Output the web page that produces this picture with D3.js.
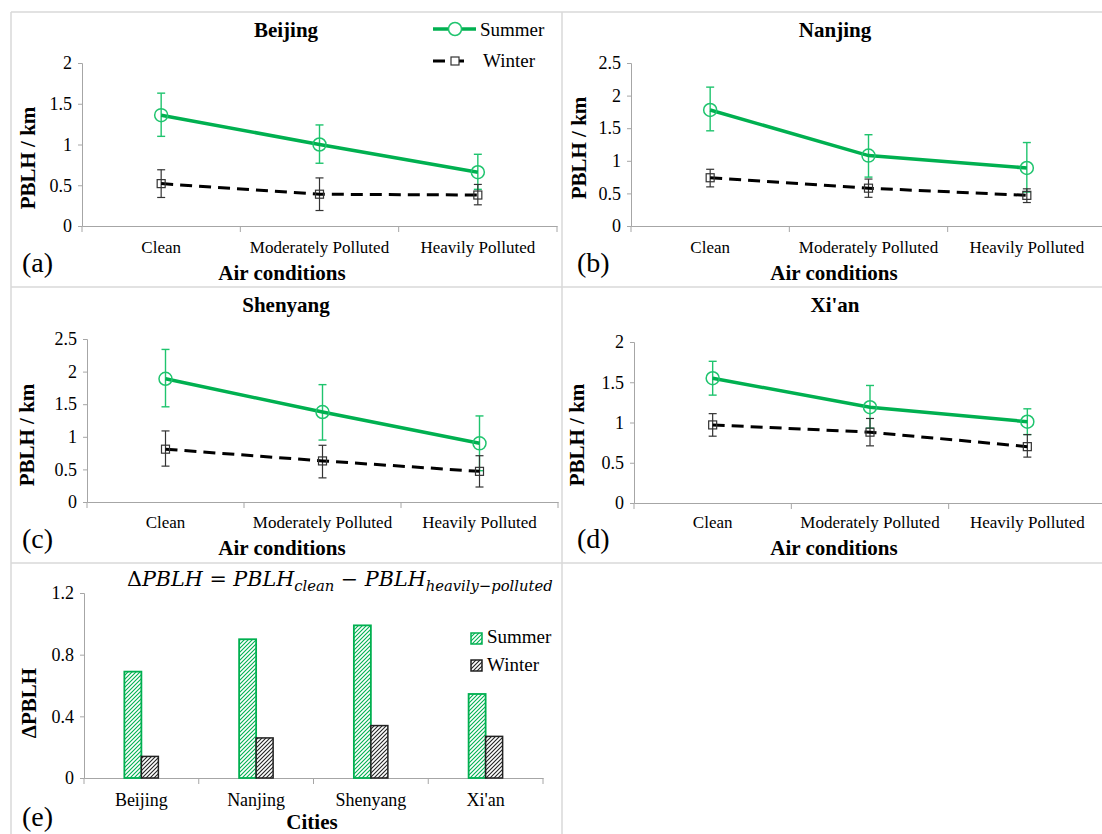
<!DOCTYPE html>
<html>
<head>
<meta charset="utf-8">
<script src="https://cdn.jsdelivr.net/npm/d3@7"></script>
</head>
<body style="margin:0;background:#fff">
<script>
// categories and tick labels
var categories = ["Clean", "Moderately Polluted", "Heavily Polluted"];
var cities = ["Beijing", "Nanjing", "Shenyang", "Xi'an"];
var ticksTwo = [0, 0.5, 1, 1.5, 2];
var ticksTwoHalf = [0, 0.5, 1, 1.5, 2, 2.5];
var deltaTicks = [0, 0.4, 0.8, 1.2];

// PBLH (km), mean and error range [low, high]
var beijingSummer = [1.36, 1.00, 0.66];
var beijingSummerErr = [[1.10, 1.63], [0.77, 1.24], [0.45, 0.88]];
var beijingWinter = [0.52, 0.39, 0.38];
var beijingWinterErr = [[0.35, 0.69], [0.19, 0.59], [0.26, 0.51]];

var nanjingSummer = [1.78, 1.08, 0.89];
var nanjingSummerErr = [[1.46, 2.13], [0.75, 1.40], [0.52, 1.28]];
var nanjingWinter = [0.74, 0.58, 0.47];
var nanjingWinterErr = [[0.60, 0.87], [0.44, 0.72], [0.36, 0.57]];

var shenyangSummer = [1.89, 1.38, 0.90];
var shenyangSummerErr = [[1.46, 2.34], [0.95, 1.80], [0.48, 1.32]];
var shenyangWinter = [0.81, 0.63, 0.47];
var shenyangWinterErr = [[0.55, 1.09], [0.37, 0.87], [0.23, 0.71]];

var xianSummer = [1.55, 1.19, 1.01];
var xianSummerErr = [[1.34, 1.76], [0.93, 1.46], [0.85, 1.17]];
var xianWinter = [0.97, 0.88, 0.70];
var xianWinterErr = [[0.83, 1.11], [0.71, 1.05], [0.57, 0.85]];

// delta PBLH = clean - heavily polluted
var deltaSummer = [0.69, 0.90, 0.99, 0.545];
var deltaWinter = [0.14, 0.26, 0.34, 0.27];

var green = "#00b050",
    errGreen = "#1fc46e",
    axisGray = "#a6a6a6",
    frameGray = "#d9d9d9",
    serif = "Liberation Serif";

var svg = d3.select("body").append("svg")
    .attr("width", 1102)
    .attr("height", 834);

// hatch patterns
var defs = svg.append("defs");
function hatch(id, color) {
    var p = defs.append("pattern")
        .attr("id", id)
        .attr("patternUnits", "userSpaceOnUse")
        .attr("width", 4).attr("height", 4);
    p.append("rect").attr("width", 4).attr("height", 4).attr("fill", "#fff");
    p.append("path")
        .attr("d", "M-1,1 l2,-2 M0,4 l4,-4 M3,5 l2,-2")
        .attr("stroke", color).attr("stroke-width", 1.1);
}
hatch("hatchGreen", green);
hatch("hatchBlack", "#222");

// panel frame lines
var frame = svg.append("g").attr("stroke", frameGray).attr("stroke-width", 1.5);
frame.append("line").attr("x1", 11).attr("x2", 1102).attr("y1", 12).attr("y2", 12);
frame.append("line").attr("x1", 11).attr("x2", 1102).attr("y1", 287).attr("y2", 287);
frame.append("line").attr("x1", 11).attr("x2", 1102).attr("y1", 563).attr("y2", 563);
frame.append("line").attr("x1", 11).attr("x2", 11).attr("y1", 12).attr("y2", 834);
frame.append("line").attr("x1", 562).attr("x2", 562).attr("y1", 12).attr("y2", 834);

function styleYAxis(ya) {
    ya.select(".domain").attr("stroke", axisGray);
    ya.selectAll(".tick line").attr("stroke", axisGray);
    ya.selectAll("text").attr("font-size", 18).attr("fill", "#000");
}

var panels = [
    {name: "Beijing", letter: "(a)", summer: beijingSummer, sErr: beijingSummerErr, winter: beijingWinter, wErr: beijingWinterErr,
     ticks: ticksTwo, x0: 82, x1: 557, yTop: 63, yBot: 226, tx: 286, ty: 37, ylx: 28, yly: 158, xlx: 282, xly: 280, cy: 253, lx: 22, ly: 272, legend: true},
    {name: "Nanjing", letter: "(b)", summer: nanjingSummer, sErr: nanjingSummerErr, winter: nanjingWinter, wErr: nanjingWinterErr,
     ticks: ticksTwoHalf, x0: 631, x1: 1106, yTop: 63, yBot: 226, tx: 835, ty: 37, ylx: 579, yly: 148, xlx: 834, xly: 280, cy: 253, lx: 577, ly: 272},
    {name: "Shenyang", letter: "(c)", summer: shenyangSummer, sErr: shenyangSummerErr, winter: shenyangWinter, wErr: shenyangWinterErr,
     ticks: ticksTwoHalf, x0: 87, x1: 558, yTop: 339, yBot: 502, tx: 286, ty: 312, ylx: 27, yly: 435, xlx: 282, xly: 555, cy: 528, lx: 22, ly: 548},
    {name: "Xi'an", letter: "(d)", summer: xianSummer, sErr: xianSummerErr, winter: xianWinter, wErr: xianWinterErr,
     ticks: ticksTwo, x0: 634, x1: 1106, yTop: 342, yBot: 503, tx: 835, ty: 312, ylx: 577, yly: 435, xlx: 834, xly: 555, cy: 528, lx: 577, ly: 548}
];

panels.forEach(function(p) {
    var g = svg.append("g");
    var x = d3.scaleBand().domain(categories).range([p.x0, p.x1]);
    var y = d3.scaleLinear().domain([0, d3.max(p.ticks)]).range([p.yBot, p.yTop]);
    var cx = function(d, i) { return x(categories[i]) + x.bandwidth() / 2; };

    // y axis
    var ya = g.append("g").attr("transform", "translate(" + p.x0 + ",0)")
        .call(d3.axisLeft(y).tickValues(p.ticks).tickSize(4).tickPadding(6).tickFormat(d3.format("")));
    styleYAxis(ya);

    // x axis with ticks between categories
    var xa = g.append("g").attr("transform", "translate(0," + p.yBot + ")")
        .call(d3.axisBottom(x).tickSize(0).tickFormat(""));
    xa.select(".domain").attr("stroke", axisGray);
    xa.selectAll(".tick").remove();
    var bounds = categories.map(function(c) { return x(c); }).concat([p.x1]);
    g.selectAll(".xt").data(bounds).enter().append("line")
        .attr("x1", function(d) { return d; }).attr("x2", function(d) { return d; })
        .attr("y1", p.yBot).attr("y2", p.yBot + 6)
        .attr("stroke", axisGray);
    g.selectAll(".cl").data(categories).enter().append("text")
        .attr("x", function(d) { return x(d) + x.bandwidth() / 2; })
        .attr("y", p.cy)
        .attr("text-anchor", "middle").attr("font-size", 17)
        .text(function(d) { return d; });

    // titles
    g.append("text").attr("x", p.tx).attr("y", p.ty).attr("text-anchor", "middle")
        .attr("font-size", 21).attr("font-weight", "bold").text(p.name);
    g.append("text").attr("transform", "translate(" + p.ylx + "," + p.yly + ") rotate(-90)")
        .attr("dy", "0.35em").attr("text-anchor", "middle")
        .attr("font-size", 21).attr("font-weight", "bold").text("PBLH / km");
    g.append("text").attr("x", p.xlx).attr("y", p.xly).attr("text-anchor", "middle")
        .attr("font-size", 21).attr("font-weight", "bold").text("Air conditions");
    g.append("text").attr("x", p.lx).attr("y", p.ly)
        .attr("font-size", 28).text(p.letter);

    var line = d3.line().x(cx).y(function(d) { return y(d); });

    // error bars
    function errBars(err, color, w) {
        var eg = g.append("g").attr("stroke", color).attr("stroke-width", w);
        eg.selectAll(".v").data(err).enter().append("line")
            .attr("x1", cx).attr("x2", cx)
            .attr("y1", function(d) { return y(d[0]); }).attr("y2", function(d) { return y(d[1]); });
        [0, 1].forEach(function(k) {
            eg.selectAll(".c" + k).data(err).enter().append("line")
                .attr("x1", function(d, i) { return cx(d, i) - 4; })
                .attr("x2", function(d, i) { return cx(d, i) + 4; })
                .attr("y1", function(d) { return y(d[k]); }).attr("y2", function(d) { return y(d[k]); });
        });
    }
    errBars(p.sErr, errGreen, 1.4);
    errBars(p.wErr, "#333", 1.2);

    g.append("path").datum(p.summer).attr("d", line)
        .attr("fill", "none").attr("stroke", green).attr("stroke-width", 3.5);
    g.append("path").datum(p.winter).attr("d", line)
        .attr("fill", "none").attr("stroke", "#000").attr("stroke-width", 3)
        .attr("stroke-dasharray", "12,7");

    g.selectAll(".sm").data(p.summer).enter().append("circle")
        .attr("cx", cx).attr("cy", function(d) { return y(d); }).attr("r", 6.5)
        .attr("fill", "none").attr("stroke", errGreen).attr("stroke-width", 1.5);
    g.selectAll(".wm").data(p.winter).enter().append("rect")
        .attr("x", function(d, i) { return cx(d, i) - 4; })
        .attr("y", function(d) { return y(d) - 4; })
        .attr("width", 8).attr("height", 8)
        .attr("fill", "none").attr("stroke", "#333").attr("stroke-width", 1.2);

    if (p.legend) {
        var lg = g.append("g");
        lg.append("line").attr("x1", 433).attr("x2", 476).attr("y1", 29).attr("y2", 29)
            .attr("stroke", green).attr("stroke-width", 3.5);
        lg.append("circle").attr("cx", 455).attr("cy", 29).attr("r", 6.5)
            .attr("fill", "#fff").attr("stroke", errGreen).attr("stroke-width", 1.5);
        lg.append("text").attr("x", 480).attr("y", 36).attr("font-size", 19).text("Summer");
        lg.append("line").attr("x1", 433).attr("x2", 470).attr("y1", 61).attr("y2", 61)
            .attr("stroke", "#000").attr("stroke-width", 3).attr("stroke-dasharray", "12,7");
        lg.append("rect").attr("x", 451).attr("y", 57).attr("width", 8).attr("height", 8)
            .attr("fill", "#fff").attr("stroke", "#333").attr("stroke-width", 1.2);
        lg.append("text").attr("x", 483).attr("y", 67).attr("font-size", 19).text("Winter");
    }
});

// panel (e): delta PBLH bars
var formula;
(function() {
    var g = svg.append("g");
    var x0 = 84, x1 = 543, yTop = 593, yBot = 778;
    var x = d3.scaleBand().domain(cities).range([x0, x1]);
    var y = d3.scaleLinear().domain([0, 1.2]).range([yBot, yTop]);
    var bw = 17;

    var ya = g.append("g").attr("transform", "translate(" + x0 + ",0)")
        .call(d3.axisLeft(y).tickValues(deltaTicks).tickSize(4).tickPadding(6).tickFormat(d3.format("")));
    styleYAxis(ya);

    var xa = g.append("g").attr("transform", "translate(0," + yBot + ")")
        .call(d3.axisBottom(x).tickSize(0).tickFormat(""));
    xa.select(".domain").attr("stroke", axisGray);
    xa.selectAll(".tick").remove();
    var bounds = cities.map(function(c) { return x(c); }).concat([x1]);
    g.selectAll(".xt").data(bounds).enter().append("line")
        .attr("x1", function(d) { return d; }).attr("x2", function(d) { return d; })
        .attr("y1", yBot).attr("y2", yBot + 6).attr("stroke", axisGray);
    g.selectAll(".cl").data(cities).enter().append("text")
        .attr("x", function(d) { return x(d) + x.bandwidth() / 2; })
        .attr("y", 806).attr("text-anchor", "middle").attr("font-size", 18)
        .text(function(d) { return d; });

    var mid = function(d, i) { return x(cities[i]) + x.bandwidth() / 2; };
    g.selectAll(".bs").data(deltaSummer).enter().append("rect")
        .attr("x", function(d, i) { return mid(d, i) - bw; })
        .attr("y", function(d) { return y(d); })
        .attr("width", bw).attr("height", function(d) { return yBot - y(d); })
        .attr("fill", "url(#hatchGreen)").attr("stroke", green).attr("stroke-width", 1.8);
    g.selectAll(".bw").data(deltaWinter).enter().append("rect")
        .attr("x", function(d, i) { return mid(d, i); })
        .attr("y", function(d) { return y(d); })
        .attr("width", bw).attr("height", function(d) { return yBot - y(d); })
        .attr("fill", "url(#hatchBlack)").attr("stroke", "#222").attr("stroke-width", 1.5);

    g.append("text").attr("transform", "translate(29,703) rotate(-90)")
        .attr("dy", "0.35em").attr("text-anchor", "middle")
        .attr("font-size", 21).attr("font-weight", "bold").text("\u0394PBLH");
    g.append("text").attr("x", 312).attr("y", 829).attr("text-anchor", "middle")
        .attr("font-size", 21).attr("font-weight", "bold").text("Cities");
    g.append("text").attr("x", 22).attr("y", 826).attr("font-size", 28).text("(e)");

    // legend
    g.append("rect").attr("x", 471).attr("y", 633).attr("width", 11).attr("height", 11)
        .attr("fill", "url(#hatchGreen)").attr("stroke", green).attr("stroke-width", 1.5);
    g.append("text").attr("x", 487).attr("y", 643).attr("font-size", 19).text("Summer");
    g.append("rect").attr("x", 471).attr("y", 660).attr("width", 11).attr("height", 11)
        .attr("fill", "url(#hatchBlack)").attr("stroke", "#222").attr("stroke-width", 1.5);
    g.append("text").attr("x", 487).attr("y", 671).attr("font-size", 19).text("Winter");

    // formula
    formula = g.append("text").attr("class", "formula").attr("x", 127).attr("y", 586)
        .attr("font-size", 21).attr("font-style", "italic");
    formula.append("tspan").attr("font-style", "normal").text("\u0394");
    formula.append("tspan").text("PBLH = PBLH");
    formula.append("tspan").attr("class", "sub").attr("font-size", 15).attr("dy", 5).text("clean");
    formula.append("tspan").attr("dy", -5).text(" \u2212 PBLH");
    formula.append("tspan").attr("class", "sub").attr("font-size", 15).attr("dy", 5).text("heavily\u2212polluted");
})();

// force the serif font on every text element
svg.selectAll("text").attr("font-family", serif).style("font-family", "'" + serif + "', serif", "important");
formula.attr("font-family", "DejaVu Serif").style("font-family", "'DejaVu Serif', serif", "important");
formula.selectAll("tspan").style("font-family", "'DejaVu Serif', serif", "important");

// scale the formula to the reference width
var k = 426 / formula.node().getComputedTextLength();
formula.attr("font-size", 21 * k);
formula.selectAll(".sub").attr("font-size", 15 * k);
</script>
</body>
</html>
